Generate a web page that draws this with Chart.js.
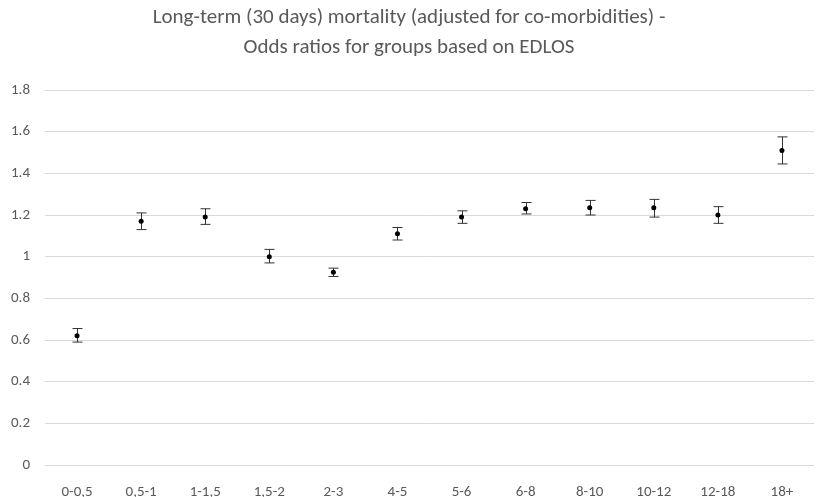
<!DOCTYPE html>
<html>
<head>
<meta charset="utf-8">
<script src="https://cdn.jsdelivr.net/npm/chart.js@4/dist/chart.umd.min.js"></script>
<style>
  html, body { margin: 0; padding: 0; background: #fff; }
  #wrap { width: 818px; height: 497px; }
</style>
</head>
<body>
<div id="wrap"><canvas id="orChart" width="818" height="497"></canvas></div>
<script>
const groups = ['0-0,5', '0,5-1', '1-1,5', '1,5-2', '2-3', '4-5', '5-6', '6-8', '8-10', '10-12', '12-18', '18+'];
const oddsRatios = [0.62, 1.17, 1.19, 1.00, 0.925, 1.11, 1.19, 1.23, 1.235, 1.235, 1.20, 1.51];
const lowerCI = [0.59, 1.13, 1.155, 0.97, 0.905, 1.08, 1.16, 1.205, 1.20, 1.19, 1.16, 1.445];
const upperCI = [0.655, 1.21, 1.23, 1.035, 0.945, 1.14, 1.22, 1.26, 1.27, 1.275, 1.24, 1.575];
const yTicks = [0, 0.2, 0.4, 0.6, 0.8, 1, 1.2, 1.4, 1.6, 1.8];
const yTickLabels = ['0', '0.2', '0.4', '0.6', '0.8', '1', '1.2', '1.4', '1.6', '1.8'];

const fontFamily = 'Carlito, Calibri, "Liberation Sans Narrow", "Open Sans", sans-serif';
const textColor = '#595959';

// draws the confidence interval whiskers behind the points
const errorBars = {
  id: 'errorBars',
  beforeDatasetsDraw(chart) {
    const ctx = chart.ctx;
    const x = chart.scales.x, y = chart.scales.y;
    ctx.save();
    ctx.strokeStyle = '#333';
    ctx.lineWidth = 1;
    groups.forEach((g, i) => {
      const px = Math.round(x.getPixelForValue(i)) + 0.5;
      const top = y.getPixelForValue(upperCI[i]);
      const bot = y.getPixelForValue(lowerCI[i]);
      ctx.beginPath();
      ctx.moveTo(px, top); ctx.lineTo(px, bot);
      ctx.moveTo(px - 5, top); ctx.lineTo(px + 5, top);
      ctx.moveTo(px - 5, bot); ctx.lineTo(px + 5, bot);
      ctx.stroke();
    });
    ctx.restore();
  }
};

new Chart(document.getElementById('orChart'), {
  type: 'line',
  data: {
    labels: groups,
    datasets: [{
      data: oddsRatios,
      showLine: false,
      pointRadius: 2.5,
      pointBackgroundColor: '#000',
      pointBorderColor: '#000',
      pointBorderWidth: 0
    }]
  },
  options: {
    responsive: false,
    animation: false,
    layout: { padding: { left: 0, right: 0, top: 0, bottom: 0 } },
    plugins: {
      legend: { display: false },
      tooltip: { enabled: false },
      title: {
        display: true,
        text: ['Long-term (30 days) mortality (adjusted for co-morbidities) -', 'Odds ratios for groups based on EDLOS'],
        color: textColor,
        font: { family: fontFamily, size: 21, weight: 'normal', lineHeight: '30px' },
        padding: { top: 3, bottom: 27 }
      }
    },
    scales: {
      x: {
        offset: true,
        grid: { display: false },
        border: { display: false },
        ticks: { color: textColor, font: { family: fontFamily, size: 15 }, padding: 10, maxRotation: 0, autoSkip: false },
        afterFit(s) { s.height = 32; }
      },
      y: {
        min: 0,
        max: 1.8,
        afterBuildTicks(s) { s.ticks = yTicks.map(v => ({ value: v })); },
        grid: { color: '#d9d9d9', drawTicks: false },
        border: { display: false },
        ticks: {
          color: textColor,
          font: { family: fontFamily, size: 15 },
          padding: 15,
          callback: (v, i) => yTickLabels[i]
        },
        afterFit(s) { s.width = 45; }
      }
    }
  },
  plugins: [errorBars]
});
</script>
</body>
</html>
